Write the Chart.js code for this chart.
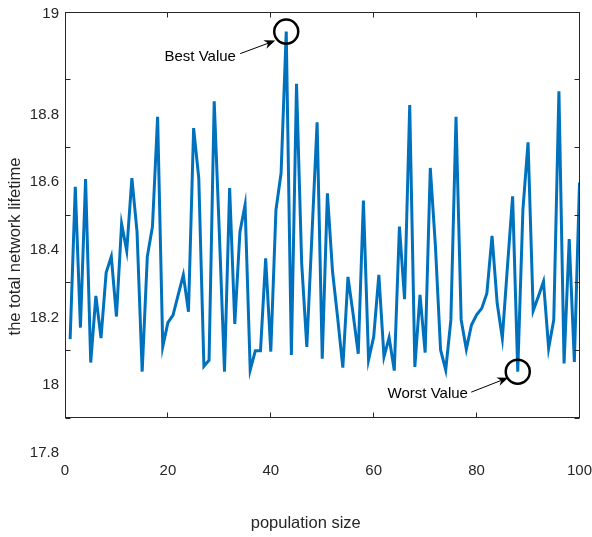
<!DOCTYPE html>
<html>
<head>
<meta charset="utf-8">
<script src="https://cdn.jsdelivr.net/npm/chart.js@4.4.1/dist/chart.umd.min.js"></script>
<style>
  html, body { margin: 0; padding: 0; background: #ffffff; }
  #wrap { width: 592px; height: 537px; }
</style>
</head>
<body>
<div id="wrap"><canvas id="chart" width="592" height="537"></canvas></div>
<script>
// ---------------- data ----------------
const populationSize = [
  1, 2, 3, 4, 5, 6, 7, 8, 9, 10,
  11, 12, 13, 14, 15, 16, 17, 18, 19, 20,
  21, 22, 23, 24, 25, 26, 27, 28, 29, 30,
  31, 32, 33, 34, 35, 36, 37, 38, 39, 40,
  41, 42, 43, 44, 45, 46, 47, 48, 49, 50,
  51, 52, 53, 54, 55, 56, 57, 58, 59, 60,
  61, 62, 63, 64, 65, 66, 67, 68, 69, 70,
  71, 72, 73, 74, 75, 76, 77, 78, 79, 80,
  81, 82, 83, 84, 85, 86, 87, 88, 89, 90,
  91, 92, 93, 94, 95, 96, 97, 98, 99, 100
];
const networkLifetime = [
  18.033, 18.483, 18.067, 18.506, 17.964, 18.161, 18.036, 18.230, 18.277, 18.100,
  18.374, 18.294, 18.509, 18.351, 17.937, 18.277, 18.366, 18.690, 18.011, 18.082,
  18.104, 18.164, 18.223, 18.114, 18.657, 18.509, 17.953, 17.971, 18.736, 18.346,
  17.937, 18.480, 18.078, 18.350, 18.430, 17.942, 17.999, 17.999, 18.272, 17.996,
  18.415, 18.524, 18.942, 17.986, 18.788, 18.258, 18.010, 18.342, 18.674, 17.975,
  18.464, 18.233, 18.095, 17.949, 18.217, 18.107, 17.990, 18.443, 17.972, 18.040,
  18.223, 17.981, 18.038, 17.940, 18.366, 18.151, 18.725, 17.951, 18.164, 17.993,
  18.539, 18.307, 18.001, 17.942, 18.090, 18.690, 18.090, 18.003, 18.075, 18.105,
  18.124, 18.169, 18.338, 18.139, 18.036, 18.248, 18.455, 17.937, 18.415, 18.615,
  18.117, 18.159, 18.203, 18.006, 18.090, 18.766, 17.961, 18.329, 17.966, 18.496
];
const markedSizes = [43, 88];
const markedNames = ['Best Value', 'Worst Value'];
const xTickValues = [0, 20, 40, 60, 80, 100];
const yTickValues = [19, 18.8, 18.6, 18.4, 18.2, 18, 17.8];
const yTickLabels = ['19', '18.8', '18.6', '18.4', '18.2', '18', '17.8'];
const xTitle = 'population size';
const yTitle = 'the total network lifetime';

// ---------------- styles ----------------
const FONT = '"Liberation Sans", Arial, Helvetica, sans-serif';
const AXIS_COLOR = '#262626';
const LINE_COLOR = '#0072BD';
const TICK_LEN = 5;
// label layout offsets (px) relative to the marker / tick pixel / chart area
const yLabelOffsets = [1.8, 34.8, 34.8, 34.8, 34.8, 34.8, 34.8];
const annotationLayout = [
  { text: [-86, 25], from: [-46, 22], to: [-11, 9] },
  { text: [-90, 22], from: [-46.5, 20.5], to: [-9.5, 6] }
];
const titleLayout = { xTitleDx: -16.5, xTitleY: 523.5, yTitleX: 15, yTitleDy: 31.5, size: 16.5 };

const lineData = populationSize.map((p, i) => ({ x: p, y: networkLifetime[i] }));
const markerData = markedSizes.map(s => ({ x: s, y: networkLifetime[populationSize.indexOf(s)] }));

Chart.defaults.font.family = FONT;
Chart.defaults.font.size = 15;
Chart.defaults.color = AXIS_COLOR;

function drawArrow(ctx, x1, y1, x2, y2) {
  const dx = x2 - x1, dy = y2 - y1;
  const len = Math.hypot(dx, dy);
  const ux = dx / len, uy = dy / len;
  const nx = -uy, ny = ux;
  const L = 11, W = 4.5;
  ctx.beginPath();
  ctx.moveTo(x1, y1);
  ctx.lineTo(x2 - ux * L * 0.7, y2 - uy * L * 0.7);
  ctx.stroke();
  ctx.beginPath();
  ctx.moveTo(x2, y2);
  ctx.lineTo(x2 - ux * L + nx * W, y2 - uy * L + ny * W);
  ctx.lineTo(x2 - ux * L * 0.7, y2 - uy * L * 0.7);
  ctx.lineTo(x2 - ux * L - nx * W, y2 - uy * L - ny * W);
  ctx.closePath();
  ctx.fill();
}

const matlabAxes = {
  id: 'matlabAxes',
  afterDraw(chart) {
    const { ctx, chartArea } = chart;
    const xs = chart.scales.x, ys = chart.scales.y;
    const L = Math.floor(chartArea.left) + 0.5;
    const R = Math.ceil(chartArea.right) - 0.5;
    const T = Math.floor(chartArea.top) + 0.5;
    const B = Math.ceil(chartArea.bottom) - 0.5;
    ctx.save();
    ctx.strokeStyle = AXIS_COLOR;
    ctx.lineWidth = 1;
    ctx.strokeRect(L, T, R - L, B - T);
    ctx.beginPath();
    yTickValues.forEach(v => {
      const p = Math.floor(ys.getPixelForValue(v)) + 0.5;
      ctx.moveTo(L, p); ctx.lineTo(L + TICK_LEN, p);
      ctx.moveTo(R, p); ctx.lineTo(R - TICK_LEN, p);
    });
    xTickValues.forEach(v => {
      const p = Math.floor(xs.getPixelForValue(v)) + 0.5;
      ctx.moveTo(p, B); ctx.lineTo(p, B - TICK_LEN);
      ctx.moveTo(p, T); ctx.lineTo(p, T + TICK_LEN);
    });
    ctx.stroke();

    // y tick labels
    ctx.fillStyle = AXIS_COLOR;
    ctx.font = '15px ' + FONT;
    ctx.textAlign = 'right';
    ctx.textBaseline = 'middle';
    yTickValues.forEach((v, i) => {
      ctx.fillText(yTickLabels[i], chartArea.left - 6, ys.getPixelForValue(v) + yLabelOffsets[i]);
    });

    // axis titles
    ctx.font = titleLayout.size + 'px ' + FONT;
    ctx.textAlign = 'center';
    ctx.fillText(xTitle, (chartArea.left + chartArea.right) / 2 + titleLayout.xTitleDx, titleLayout.xTitleY);
    ctx.save();
    ctx.translate(titleLayout.yTitleX, (chartArea.top + chartArea.bottom) / 2 + titleLayout.yTitleDy);
    ctx.rotate(-Math.PI / 2);
    ctx.fillText(yTitle, 0, 0);
    ctx.restore();

    // annotations
    ctx.font = '15px ' + FONT;
    ctx.fillStyle = '#000000';
    ctx.strokeStyle = '#000000';
    ctx.textAlign = 'center';
    markerData.forEach((m, i) => {
      const cx = xs.getPixelForValue(m.x), cy = ys.getPixelForValue(m.y);
      const a = annotationLayout[i];
      ctx.fillText(markedNames[i], cx + a.text[0], cy + a.text[1]);
      ctx.lineWidth = 1;
      drawArrow(ctx, cx + a.from[0], cy + a.from[1], cx + a.to[0], cy + a.to[1]);
    });
    ctx.restore();
  }
};

new Chart(document.getElementById('chart'), {
  type: 'line',
  data: {
    datasets: [
      {
        label: 'markers',
        data: markerData,
        showLine: false,
        pointRadius: 12,
        pointHoverRadius: 12,
        pointBorderWidth: 2.5,
        pointBorderColor: '#000000',
        pointBackgroundColor: 'rgba(0,0,0,0)',
        order: 0
      },
      {
        label: 'lifetime',
        data: lineData,
        borderColor: LINE_COLOR,
        borderWidth: 3,
        pointRadius: 0,
        tension: 0,
        fill: false,
        order: 1
      }
    ]
  },
  options: {
    responsive: false,
    animation: false,
    devicePixelRatio: 1,
    layout: { autoPadding: false, padding: { top: 12, right: 12.5, left: 0, bottom: 0 } },
    plugins: { legend: { display: false }, tooltip: { enabled: false } },
    scales: {
      x: {
        type: 'linear',
        min: 0, max: 100,
        afterBuildTicks: s => { s.ticks = xTickValues.map(v => ({ value: v })); },
        afterFit: s => { s.height = 119; s.paddingLeft = 0; s.paddingRight = 0; },
        grid: { display: false, drawTicks: false },
        border: { display: false },
        ticks: { padding: 44, color: AXIS_COLOR, maxRotation: 0, font: { size: 15 } },
        title: { display: false }
      },
      y: {
        type: 'linear',
        min: 17.8, max: 19,
        afterBuildTicks: s => { s.ticks = yTickValues.map(v => ({ value: v })); },
        afterFit: s => { s.width = 65; s.paddingTop = 0; s.paddingBottom = 0; },
        grid: { display: false, drawTicks: false },
        border: { display: false },
        ticks: { display: false },
        title: { display: false }
      }
    }
  },
  plugins: [matlabAxes]
});
</script>
</body>
</html>
